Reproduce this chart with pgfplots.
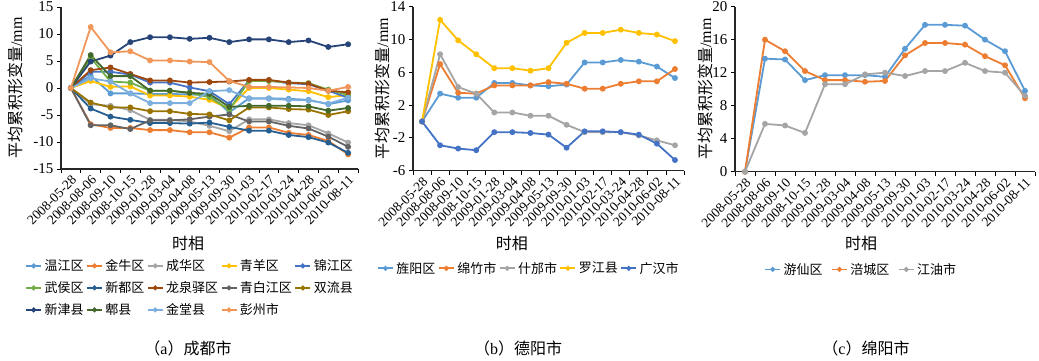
\documentclass[border=0pt]{standalone}
\usepackage{fontspec}
\setmainfont{Liberation Serif}
\newfontfamily\cjk{Noto Sans CJK SC}
\usepackage{pgfplots}
\usepackage{pgfplotstable}
\pgfplotsset{compat=1.18}

\definecolor{c1}{HTML}{5B9BD5}
\definecolor{c2}{HTML}{ED7D31}
\definecolor{c3}{HTML}{A5A5A5}
\definecolor{c4}{HTML}{FFC000}
\definecolor{c5}{HTML}{4472C4}
\definecolor{c6}{HTML}{70AD47}
\definecolor{c7}{HTML}{255E91}
\definecolor{c8}{HTML}{9E480E}
\definecolor{c9}{HTML}{636363}
\definecolor{c10}{HTML}{997300}
\definecolor{c11}{HTML}{264478}
\definecolor{c12}{HTML}{43682B}
\definecolor{c13}{HTML}{7CAFDD}
\definecolor{c14}{HTML}{F1975A}

\pgfplotstableread{
x  wj    jn    ch    qy    jj    wh    xd    lq    qbj   sl    xj   px    jt    pz
0  0     0     0     0     0     0     0     0     0     0     0    0     0     0
1  2.3  -6.7  -3.0   1.3   3.0   5.6  -3.8   3.3  -6.9  -2.7   4.9  6.1   1.8  11.3
2 -1.0  -7.4  -3.3   0.2   3.0   1.2  -5.3   3.8  -6.9  -3.6   6.0  2.2   1.2   6.6
3 -1.0  -7.4  -4.1   0.3   2.5   1.0  -5.9   2.6  -7.6  -3.6   8.5  2.2  -1.0   6.8
4 -1.1  -7.8  -5.9  -1.4   1.0  -0.5  -6.5   1.4  -6.0  -4.3   9.4 -0.5  -2.8   5.1
5 -1.1  -7.8  -5.9  -1.4   1.0  -0.5  -6.5   1.4  -6.0  -4.3   9.4 -0.5  -2.8   5.1
6 -1.2  -8.2  -6.2  -1.6   0.1  -0.9  -6.6   1.0  -5.8  -4.8   9.1 -0.9  -2.8   4.9
7 -1.3  -8.2  -7.0  -2.2  -0.6  -1.7  -6.4   1.1  -5.3  -4.9   9.3 -1.1  -0.6   4.8
8 -4.5  -9.2  -8.0  -3.8  -3.0  -4.0  -7.2   1.2  -4.9  -6.0   8.5 -3.5  -0.4   1.3
9 -1.9  -7.3  -5.8   0.0   1.4   1.3  -7.9   1.5  -6.2  -3.6   9.0 -3.3  -2.0   0.2
10 -1.9 -7.3  -5.8   0.0   1.4   1.3  -7.9   1.5  -6.2  -3.6   9.0 -3.3  -2.0   0.2
11 -2.0 -8.3  -6.5  -0.3   0.9   1.0  -8.7   1.0  -7.0  -3.9   8.5 -3.3  -2.2   0.1
12 -2.2 -8.7  -6.9  -0.6   0.7   0.9  -9.1   0.8  -7.5  -4.0   8.8 -3.4  -2.3   0.0
13 -3.0 -9.8  -8.4  -1.7  -0.5  -0.3 -10.1  -0.5  -9.0  -5.0   7.6 -4.2  -2.9  -0.5
14 -2.3 -12.3 -10.1 -1.3  -1.8  -1.3 -12.0  -0.8 -10.9  -4.3   8.1 -3.7  -1.8   0.2
}\tabA

\pgfplotstableread{
x  jy   mz   sf   lj   gh
0  0    0    0    0    0
1  3.4  7.0  8.2  12.4 -2.9
2  2.9  3.5  4.2  9.9  -3.3
3  2.9  3.4  3.4  8.2  -3.5
4  4.7  4.4  1.1  6.5  -1.3
5  4.7  4.4  1.1  6.5  -1.3
6  4.4  4.4  0.7  6.2  -1.4
7  4.3  4.8  0.7  6.5  -1.6
8  4.5  4.6 -0.4  9.6  -3.2
9  7.2  4.0 -1.3  10.8 -1.2
10 7.2  4.0 -1.3  10.8 -1.2
11 7.5  4.6 -1.3  11.2 -1.3
12 7.3  4.9 -1.7  10.8 -1.6
13 6.7  4.9 -2.3  10.6 -2.7
14 5.3  6.4 -2.9  9.8  -4.7
}\tabB

\pgfplotstableread{
x  yx    fc    jyo
0  0     0     0
1  13.7  16.0  5.8
2  13.6  14.6  5.6
3  11.1  12.2  4.7
4  11.7  11.1  10.6
5  11.7  11.1  10.6
6  11.7  10.9  11.8
7  11.5  11.0  12.0
8  14.9  14.1  11.6
9  17.8  15.6  12.2
10 17.8  15.6  12.2
11 17.7  15.4  13.2
12 16.0  14.0  12.2
13 14.6  12.9  12.0
14 9.8   8.9   9.2
}\tabC

\pgfplotsset{
  base/.style={
    scale only axis,
    axis x line*=bottom, axis y line*=left,
    axis line style={line width=1.2pt, black!85, -},
    xmin=-0.5, xmax=14.5,
    xtick={0,...,14},
    xticklabels={2008-05-28,2008-08-06,2008-09-10,2008-10-15,2009-01-28,2009-03-04,2009-04-08,2009-05-13,2009-09-30,2010-01-03,2010-02-17,2010-03-24,2010-04-28,2010-06-02,2010-08-11},
    major x tick style={draw=none},
    minor xtick={-0.5,0.5,...,14.5},
    minor x tick style={line width=0.8pt, black},
    minor tick length=4pt,
    major tick length=4pt,
    tick align=outside,
    y tick style={line width=0.8pt, black},
    x tick label style={rotate=45, anchor=north east, font=\fontsize{13.5}{13.5}\selectfont, inner sep=1pt},
    y tick label style={font=\fontsize{15}{15}\selectfont},
    /pgf/number format/assume math mode=true,
    clip=false,
    every axis plot/.append style={line width=1.8pt, mark=*, mark size=2pt},
    legend style={draw=none, fill=none, font=\cjk\fontsize{13}{13}\selectfont, anchor=north west,
      inner sep=0pt, column sep=1pt, row sep=6.5pt, nodes={inner sep=1.5pt}},
    legend cell align=left,
    legend image code/.code={\draw[##1, mark repeat=2, mark phase=2, mark size=1.5pt] plot coordinates {(0pt,0pt) (7.5pt,0pt) (15pt,0pt)};},
    ylabel={\cjk 平均累积形变量{\rmfamily /mm}},
    xlabel={\cjk 时相},
    label style={font=\fontsize{16}{16}\selectfont},
  }
}

\begin{document}
\begin{tikzpicture}
\useasboundingbox (0pt,0pt) rectangle (1039pt,361pt);

% (a)
\begin{axis}[base, at={(61pt,192pt)}, anchor=south west, width=297pt, height=162pt,
  ymin=-15, ymax=15, ytick={-15,-10,...,15},
  ylabel style={at={(axis description cs:-0.152,0.5)}, anchor=center},
  xlabel style={at={(axis description cs:0.428,-0.457)}, anchor=center},
  legend columns=5,
  legend style={at={(axis description cs:-0.121,-0.549)}}]
\addplot[c1] table[x=x,y=wj]{\tabA}; \addlegendentry{温江区}
\addplot[c2] table[x=x,y=jn]{\tabA}; \addlegendentry{金牛区}
\addplot[c3] table[x=x,y=ch]{\tabA}; \addlegendentry{成华区}
\addplot[c4] table[x=x,y=qy]{\tabA}; \addlegendentry{青羊区}
\addplot[c5] table[x=x,y=jj]{\tabA}; \addlegendentry{锦江区}
\addplot[c6] table[x=x,y=wh]{\tabA}; \addlegendentry{武侯区}
\addplot[c7] table[x=x,y=xd]{\tabA}; \addlegendentry{新都区}
\addplot[c8] table[x=x,y=lq]{\tabA}; \addlegendentry{龙泉驿区}
\addplot[c9] table[x=x,y=qbj]{\tabA}; \addlegendentry{青白江区}
\addplot[c10] table[x=x,y=sl]{\tabA}; \addlegendentry{双流县}
\addplot[c11] table[x=x,y=xj]{\tabA}; \addlegendentry{新津县}
\addplot[c12] table[x=x,y=px]{\tabA}; \addlegendentry{郫县}
\addplot[c13] table[x=x,y=jt]{\tabA}; \addlegendentry{金堂县}
\addplot[c14] table[x=x,y=pz]{\tabA}; \addlegendentry{彭州市}
\end{axis}

% (b)
\begin{axis}[base, at={(413pt,190.3pt)}, anchor=south west, width=271pt, height=164pt,
  ymin=-6, ymax=14, ytick={-6,-2,...,14},
  ylabel style={at={(axis description cs:-0.114,0.5)}, anchor=center},
  xlabel style={at={(axis description cs:0.365,-0.441)}, anchor=center},
  legend columns=5,
  legend style={at={(axis description cs:-0.133,-0.547)}}]
\addplot[c1] table[x=x,y=jy]{\tabB}; \addlegendentry{旌阳区}
\addplot[c2] table[x=x,y=mz]{\tabB}; \addlegendentry{绵竹市}
\addplot[c3] table[x=x,y=sf]{\tabB}; \addlegendentry{什邡市}
\addplot[c4] table[x=x,y=lj]{\tabB}; \addlegendentry{罗江县}
\addplot[c5] table[x=x,y=gh]{\tabB}; \addlegendentry{广汉市}
\end{axis}

% (c)
\begin{axis}[base, at={(735pt,189.3pt)}, anchor=south west, width=300pt, height=165pt,
  ymin=0, ymax=20, ytick={0,4,...,20},
  ylabel style={at={(axis description cs:-0.1,0.5)}, anchor=center},
  xlabel style={at={(axis description cs:0.42,-0.432)}, anchor=center},
  legend columns=3,
  legend style={at={(axis description cs:0.097,-0.544)}, /tikz/every even column/.append style={column sep=7pt}}]
\addplot[c1] table[x=x,y=yx]{\tabC}; \addlegendentry{游仙区}
\addplot[c2] table[x=x,y=fc]{\tabC}; \addlegendentry{涪城区}
\addplot[c3] table[x=x,y=jyo]{\tabC}; \addlegendentry{江油市}
\end{axis}

\node[font=\fontsize{16}{16}\selectfont] at (188pt,13pt) {{\cjk （}a{\cjk ）成都市}};
\node[font=\fontsize{16}{16}\selectfont] at (518pt,13pt) {{\cjk （}b{\cjk ）德阳市}};
\node[font=\fontsize{16}{16}\selectfont] at (866pt,13pt) {{\cjk （}c{\cjk ）绵阳市}};
\end{tikzpicture}
\end{document}
